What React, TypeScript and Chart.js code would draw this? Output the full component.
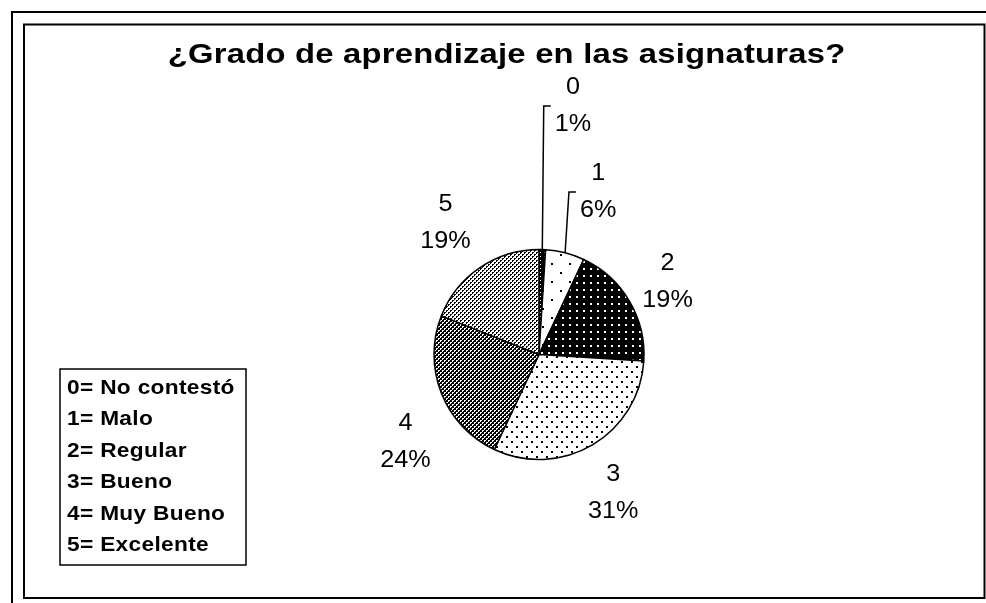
import React, { useEffect, useRef } from "react";
import { Chart, registerables } from "chart.js";

Chart.register(...registerables);

// ---------- data ----------
const TITLE = "¿Grado de aprendizaje en las asignaturas?";
const codes = ["0", "1", "2", "3", "4", "5"];
const descriptions = ["No contestó", "Malo", "Regular", "Bueno", "Muy Bueno", "Excelente"];
const percents = [1, 6, 19, 31, 24, 19];

// ---------- styling helpers ----------
const FONT = '"Liberation Sans", Arial, sans-serif';

function tile(size: number, bg: string, fg: string, rects: number[][]) {
  const c = document.createElement("canvas");
  c.width = size;
  c.height = size;
  const g = c.getContext("2d")!;
  g.fillStyle = bg;
  g.fillRect(0, 0, size, size);
  g.fillStyle = fg;
  rects.forEach((r) => g.fillRect(r[0], r[1], r[2], r[3]));
  return g.createPattern(c, "repeat")!;
}

function checker(dark: boolean) {
  const c = document.createElement("canvas");
  c.width = 4;
  c.height = 4;
  const g = c.getContext("2d")!;
  const a = dark ? "#000" : "#fff";
  const b = dark ? "#fff" : "#000";
  g.fillStyle = a;
  g.fillRect(0, 0, 4, 4);
  g.fillStyle = b;
  g.fillRect(0, 0, 2, 2);
  g.fillRect(2, 2, 2, 2);
  g.fillStyle = a;
  g.fillRect(1, 1, 1, 1);
  g.fillRect(3, 3, 1, 1);
  return g.createPattern(c, "repeat")!;
}

function makePatterns() {
  return [
    tile(4, "#000", "#fff", [[0, 0, 1, 1]]),
    tile(18, "#fff", "#000", [[2, 2, 2, 2], [11, 11, 2, 2]]),
    tile(7, "#000", "#fff", [[2, 2, 2, 2]]),
    tile(10, "#fff", "#000", [[1, 1, 2, 2], [6, 6, 2, 2]]),
    checker(true),
    checker(false),
  ];
}

function drawText(
  ctx: CanvasRenderingContext2D,
  text: string,
  x: number,
  y: number,
  font: string,
  align: "left" | "center",
  sx = 1,
  ls = 0
) {
  ctx.save();
  ctx.font = font;
  (ctx as any).letterSpacing = ls + "px";
  ctx.textAlign = "left";
  ctx.textBaseline = "middle";
  const w = (ctx.measureText(text).width - ls) * sx;
  const left = align === "center" ? x - w / 2 : x;
  ctx.translate(left, y);
  ctx.scale(sx, 1);
  ctx.fillStyle = "#000";
  ctx.fillText(text, 0, 0);
  ctx.restore();
  return w;
}

function textWidth(ctx: CanvasRenderingContext2D, text: string, font: string, sx = 1, ls = 0) {
  ctx.save();
  ctx.font = font;
  (ctx as any).letterSpacing = ls + "px";
  const w = (ctx.measureText(text).width - ls) * sx;
  ctx.restore();
  return w;
}

const framePlugin = {
  id: "frame",
  beforeDraw(chart: any) {
    const ctx = chart.ctx as CanvasRenderingContext2D;
    ctx.save();
    ctx.fillStyle = "#fff";
    ctx.fillRect(0, 0, chart.width, chart.height);
    ctx.strokeStyle = "#000";
    ctx.lineWidth = 2;
    ctx.beginPath();
    ctx.moveTo(12, chart.height + 5);
    ctx.lineTo(12, 12);
    ctx.lineTo(chart.width + 5, 12);
    ctx.stroke();
    ctx.strokeRect(24, 24.5, 960.5, 573.5);
    ctx.restore();
  },
};

const titlePlugin = {
  id: "customTitle",
  afterDraw(chart: any, _a: any, opts: any) {
    const ctx = chart.ctx as CanvasRenderingContext2D;
    drawText(ctx, TITLE, opts.x, opts.y, `bold ${opts.size}px ${FONT}`, "center", opts.sx, opts.ls);
  },
};

const legendPlugin = {
  id: "customLegend",
  afterDraw(chart: any, _a: any, opts: any) {
    const ctx = chart.ctx as CanvasRenderingContext2D;
    ctx.save();
    ctx.strokeStyle = "#000";
    ctx.lineWidth = 1.5;
    ctx.strokeRect(opts.left, opts.top, opts.width, opts.height);
    ctx.restore();
    const font = `bold ${opts.size}px ${FONT}`;
    codes.forEach((c, i) => {
      drawText(ctx, `${c}= ${descriptions[i]}`, opts.left + opts.padX, opts.firstY + i * opts.rowH, font, "left", opts.sx, opts.ls);
    });
  },
};

const sliceLabelPlugin = {
  id: "sliceLabels",
  afterDatasetsDraw(chart: any, _a: any, opts: any) {
    const ctx = chart.ctx as CanvasRenderingContext2D;
    const meta = chart.getDatasetMeta(0);
    const data = chart.data.datasets[0].data as number[];
    const total = data.reduce((s, v) => s + v, 0);
    const font = `${opts.size}px ${FONT}`;
    meta.data.forEach((arc: any, i: number) => {
      const p = arc.getProps(["x", "y", "startAngle", "endAngle", "outerRadius"], true);
      const mid = (p.startAngle + p.endAngle) / 2;
      const ux = Math.cos(mid);
      const uy = Math.sin(mid);
      const nud = opts.nudges[i] || [0, 0];
      const cx = p.x + ux * p.outerRadius * opts.factor + nud[0];
      const cy = p.y + uy * p.outerRadius * opts.factor + nud[1];
      const pct = Math.round((data[i] / total) * 100) + "%";
      const lines = [chart.data.labels[i], pct];
      const wMax = Math.max(...lines.map((t: string) => textWidth(ctx, t, font, opts.sx, opts.ls)));
      if (opts.leaders[i]) {
        const left = cx - wMax / 2 - 4;
        ctx.save();
        ctx.strokeStyle = "#000";
        ctx.lineWidth = 1.5;
        ctx.beginPath();
        ctx.moveTo(p.x + ux * p.outerRadius, p.y + uy * p.outerRadius);
        ctx.lineTo(left - 7, cy);
        ctx.lineTo(left, cy);
        ctx.stroke();
        ctx.restore();
      }
      lines.forEach((t: string, k: number) => {
        drawText(ctx, t, cx, cy + (k - 0.5) * opts.lineH, font, "center", opts.sx, opts.ls);
      });
    });
  },
};

export default function App() {
  const ref = useRef<HTMLCanvasElement | null>(null);

  useEffect(() => {
    const canvas = ref.current!;
    const patterns = makePatterns();
    const chart = new Chart(canvas, {
      type: "pie",
      data: {
        labels: codes,
        datasets: [
          {
            data: percents,
            backgroundColor: patterns as any,
            borderColor: "#000",
            borderWidth: 1.5,
            radius: 105,
          } as any,
        ],
      },
      options: {
        responsive: false,
        animation: false,
        devicePixelRatio: 1,
        events: [],
        layout: { padding: { left: 434, right: 342, top: 249.5, bottom: 143.5 } },
        plugins: {
          legend: { display: false },
          title: { display: false },
          tooltip: { enabled: false },
          customTitle: { x: 506.5, y: 55, size: 28, sx: 1.17, ls: 0.2 },
          customLegend: { left: 60, top: 369, width: 186, height: 196, size: 21, padX: 7, firstY: 388, rowH: 31.5, sx: 1.08, ls: 0.3 },
          sliceLabels: {
            size: 24,
            sx: 1.05,
            ls: 0,
            lineH: 37,
            factor: 1.5,
            nudges: [[29, -91], [20, -10], [-7, 8], [-6, 3], [13, 29], [-5, -1]],
            leaders: [true, true, false, false, false, false],
          },
        } as any,
      },
      plugins: [framePlugin, sliceLabelPlugin, titlePlugin, legendPlugin],
    });
    return () => chart.destroy();
  }, []);

  return (
    <div style={{ position: "fixed", left: 0, top: 0, width: 986, height: 603, background: "#fff" }}>
      <canvas ref={ref} width={986} height={603} style={{ display: "block", width: 986, height: 603 }} />
    </div>
  );
}
